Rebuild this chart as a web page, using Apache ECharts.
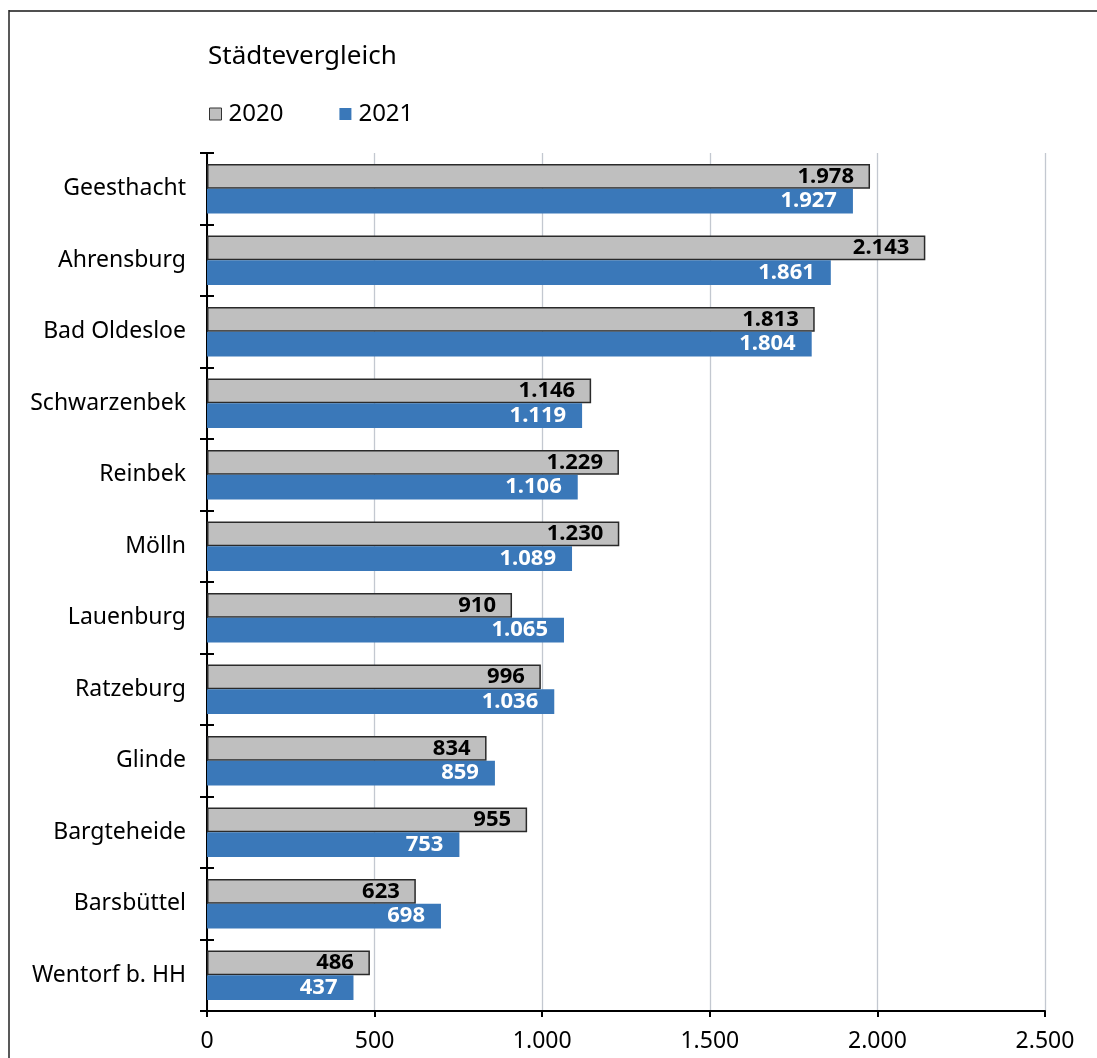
<!DOCTYPE html>
<html>
<head>
<meta charset="utf-8">
<script src="https://cdn.jsdelivr.net/npm/echarts@6/dist/echarts.min.js"></script>
<style>html,body{margin:0;padding:0;background:#fff;}#c{width:1097px;height:1058px;}</style>
</head>
<body>
<div id="c"></div>
<script>
const cities = ['Geesthacht','Ahrensburg','Bad Oldesloe','Schwarzenbek','Reinbek','Mölln','Lauenburg','Ratzeburg','Glinde','Bargteheide','Barsbüttel','Wentorf b. HH'];
const values2020 = [1978,2143,1813,1146,1229,1230,910,996,834,955,623,486];
const values2021 = [1927,1861,1804,1119,1106,1089,1065,1036,859,753,698,437];
const seriesNames = ['2020','2021'];
const titleText = 'Städtevergleich';

const FONT = 'Noto Sans';
function de(v){ return String(v).replace(/\B(?=(\d{3})+(?!\d))/g,'.'); }

const chart = echarts.init(document.getElementById('c'), null, {renderer:'canvas'});
chart.setOption({
  animation:false,
  backgroundColor:'#fff',
  textStyle:{fontFamily:FONT},
  title:{text:titleText,left:203,top:39,textStyle:{fontFamily:FONT,fontSize:26,fontWeight:'normal',color:'#000'}},
  legend:{
    left:209,top:102,padding:0,itemWidth:12,itemHeight:12,itemGap:56,
    textStyle:{fontFamily:FONT,fontSize:24,color:'#000',padding:[0,0,0,2]},
    data:[{name:seriesNames[0],icon:'rect',itemStyle:{borderColor:'#333',borderWidth:1}},{name:seriesNames[1],icon:'rect'}]
  },
  graphic:[
    {type:'line',shape:{x1:9,y1:11,x2:1097,y2:11},style:{stroke:'#505050',lineWidth:2},silent:true},
    {type:'line',shape:{x1:9,y1:10,x2:9,y2:1058},style:{stroke:'#222',lineWidth:1.5},silent:true}
  ],
  grid:{left:207,right:52,top:153,bottom:47,containLabel:false},
  xAxis:{
    type:'value',min:0,max:2500,interval:500,
    axisLine:{show:true,lineStyle:{color:'#000',width:2}},
    axisTick:{show:true,length:6,lineStyle:{color:'#000',width:2}},
    axisLabel:{fontFamily:FONT,fontSize:23,color:'#000',margin:19,formatter:de},
    splitLine:{show:true,lineStyle:{color:'#c3c8d0',width:1.3}}
  },
  yAxis:[{
    type:'category',data:cities,inverse:true,
    axisLine:{show:true,lineStyle:{color:'#000',width:2}},
    axisTick:{show:true,length:7,lineStyle:{color:'#000',width:2}},
    axisLabel:{fontFamily:FONT,fontSize:23,color:'#000',margin:21}
  },{
    type:'category',data:cities,inverse:true,position:'left',
    axisLine:{show:false},
    axisTick:{show:true,inside:true,length:7,lineStyle:{color:'#000',width:2}},
    axisLabel:{show:false}
  }],
  series:[{
    name:seriesNames[0],type:'bar',data:values2020,yAxisIndex:0,
    barGap:'0%',barCategoryGap:'31%',
    itemStyle:{color:'#bfbfbf',borderColor:'#2a2a2a',borderWidth:1.5},
    label:{show:true,position:'insideRight',distance:16,fontFamily:FONT,fontSize:22,fontWeight:'bold',color:'#000',formatter:p=>de(p.value)}
  },{
    name:seriesNames[1],type:'bar',data:values2021,yAxisIndex:0,
    barGap:'0%',barCategoryGap:'31%',
    itemStyle:{color:'#3a78b9'},
    label:{show:true,position:'insideRight',distance:16,fontFamily:FONT,fontSize:22,fontWeight:'bold',color:'#fff',formatter:p=>de(p.value)}
  }]
});
</script>
</body>
</html>
